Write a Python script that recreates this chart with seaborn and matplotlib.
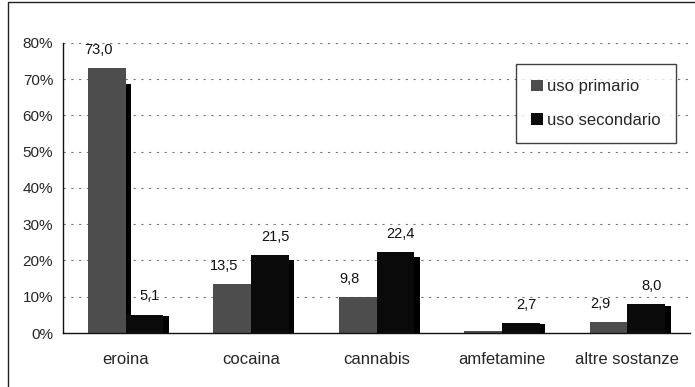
import matplotlib
matplotlib.use("Agg")
import matplotlib.pyplot as plt
import seaborn as sns
import pandas as pd
from matplotlib.patches import Rectangle
from matplotlib.ticker import FuncFormatter

categories = ["eroina", "cocaina", "cannabis", "amfetamine", "altre sostanze"]
series_names = ["uso primario", "uso secondario"]
primario = [73.0, 13.5, 9.8, 0.5, 2.9]
secondario = [5.1, 21.5, 22.4, 2.7, 8.0]
labels_primario = ["73,0", "13,5", "9,8", "", "2,9"]
labels_secondario = ["5,1", "21,5", "22,4", "2,7", "8,0"]
y_ticks = [0, 10, 20, 30, 40, 50, 60, 70, 80]

df = pd.DataFrame({
    "categoria": categories * 2,
    "serie": [series_names[0]] * len(categories) + [series_names[1]] * len(categories),
    "valore": primario + secondario,
})

sns.set_style("white")
plt.rcParams["font.family"] = ["Liberation Sans", "DejaVu Sans"]

fig = plt.figure(figsize=(6.95, 3.87), dpi=100)
ax = fig.add_axes([0.0906, 0.1395, 0.9024, 0.7495])

palette = {series_names[0]: "#4d4d4d", series_names[1]: "#0a0a0a"}
sns.barplot(data=df, x="categoria", y="valore", hue="serie", order=categories,
            hue_order=series_names, palette=palette, width=0.6, saturation=1,
            edgecolor="none", linewidth=0, ax=ax)

# darker depth side on each bar (derived from the drawn bars)
bars = list(ax.patches)[: 2 * len(categories)]
for p in bars:
    h = p.get_height()
    if h <= 0:
        continue
    ax.add_patch(Rectangle((p.get_x() + p.get_width(), 0), 0.045, h * 0.94,
                           facecolor="#000000", edgecolor="none", zorder=p.get_zorder() - 0.1))

# value labels
for cont, labs, dx in zip(ax.containers, [labels_primario, labels_secondario], [-6, 4]):
    for bar, lab in zip(cont, labs):
        if not lab:
            continue
        ax.annotate(lab, (bar.get_x() + bar.get_width() / 2, bar.get_height()),
                    xytext=(dx, 8), textcoords="offset points", ha="center",
                    va="bottom", fontsize=10.5, color="#111111")

ax.set_ylim(0, 80)
ax.set_xlim(-0.5, len(categories) - 0.5)
ax.set_yticks(y_ticks)
ax.yaxis.set_major_formatter(FuncFormatter(lambda v, _: f"{int(v)}%"))
ax.set_xticks(range(len(categories)))
ax.set_xticklabels(categories)
ax.set_xticks([i - 0.5 for i in range(len(categories) + 1)], minor=True)
ax.tick_params(axis="x", which="major", length=0, pad=14, labelsize=12)
ax.tick_params(axis="x", which="minor", length=4, width=0.8, direction="out", color="#222")
ax.tick_params(axis="y", length=4, width=0.8, direction="out", labelsize=11, pad=3, color="#222")
ax.set_xlabel("")
ax.set_ylabel("")

for v in y_ticks[1:]:
    ax.axhline(v, color="#777777", linestyle=(0, (2, 5)), linewidth=0.8, zorder=0)

for s in ["top", "right"]:
    ax.spines[s].set_visible(False)
for s in ["left", "bottom"]:
    ax.spines[s].set_color("#111111")
    ax.spines[s].set_linewidth(1.0)
ax.set_axisbelow(True)

leg = ax.legend(loc="upper right", bbox_to_anchor=(0.99, 0.955), frameon=True,
                fontsize=12, handlelength=0.7, handleheight=0.7, handletextpad=0.25,
                labelspacing=1.1, borderpad=0.9, fancybox=False)
leg.get_frame().set_edgecolor("#111111")
leg.get_frame().set_linewidth(1.0)

# chart border
fig.add_artist(Rectangle((8 / 695, -0.05), 1.2, 1.02 - 10 / 387 + 0.05, transform=fig.transFigure,
                         fill=False, edgecolor="#222222", linewidth=1.0))

fig.savefig("out.png", dpi=100)
